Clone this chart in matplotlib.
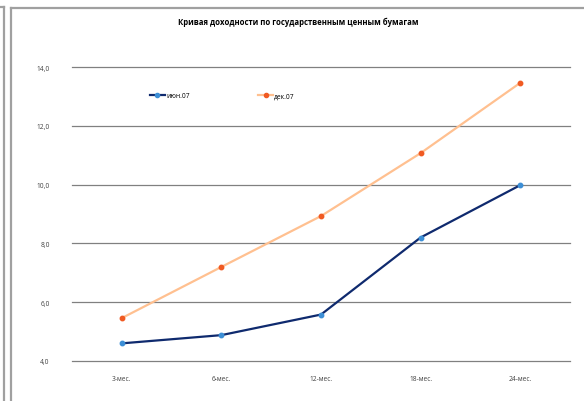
import numpy as np
import matplotlib.pyplot as plt
from matplotlib.lines import Line2D

plt.rcParams['font.family'] = ['Open Sans', 'DejaVu Sans']

terms = ['3-мес.', '6-мес.', '12-мес.', '18-мес.', '24-мес.']
jun07 = [4.6, 4.88, 5.58, 8.2, 9.98]
dec07 = [5.46, 7.2, 8.93, 11.07, 13.46]
yticks = [4, 6, 8, 10, 12, 14]

fig = plt.figure(figsize=(5.84, 4.02), dpi=100)
ax = fig.add_axes([72 / 584, 1 - 362 / 402, 498 / 584, 294 / 402])

x = np.arange(len(terms))
ax.plot(x, jun07, color='#0f2a6e', lw=1.6, marker='o', ms=3.2,
        mfc='#3d8fd6', mec='#3d8fd6', zorder=3)
ax.plot(x, dec07, color='#ffc090', lw=1.6, marker='o', ms=3.2,
        mfc='#f05a22', mec='#f05a22', zorder=3)

ax.set_xlim(-0.5, len(terms) - 0.5)
ax.set_ylim(4, 14)
ax.set_yticks(yticks)
ax.set_yticklabels([f'{v:.1f}'.replace('.', ',') for v in yticks])
ax.set_xticks(x)
ax.set_xticklabels(terms)
ax.grid(axis='y', color='#808080', lw=0.9)
for gl in ax.get_ygridlines():
    gl.set_clip_on(False)
ax.set_axisbelow(True)
for s in ax.spines.values():
    s.set_visible(False)
ax.tick_params(length=0, labelsize=4.8, colors='#404040')
ax.tick_params(axis='x', pad=10)
ax.tick_params(axis='y', pad=16)

fig.text(0.51, 1 - 22 / 402, 'Кривая доходности по государственным ценным бумагам',
         ha='center', va='center', fontsize=5.6, fontweight='bold')

# legend
handles = [Line2D([], [], color='#0f2a6e', lw=1.6, marker='o', ms=3,
                  mfc='#3d8fd6', mec='#3d8fd6'),
           Line2D([], [], color='#ffc090', lw=1.6, marker='o', ms=3,
                  mfc='#f05a22', mec='#f05a22')]
fig.legend(handles, ['июн.07', 'дек.07'], loc='center left',
           bbox_to_anchor=(150 / 584, 1 - 97 / 402), ncol=2, frameon=False,
           fontsize=4.8, handlelength=2.2, handletextpad=0.2, columnspacing=10.3,
           borderaxespad=0, borderpad=0)

# outer frames
gray = '#a0a0a0'
for xs, ys in [([4, 4], [402, 8]), ([0, 4], [8, 8]),
               ([11, 11], [402, 9]), ([11, 584], [9, 9])]:
    fig.add_artist(Line2D([v / 584 for v in xs], [1 - v / 402 for v in ys],
                          color=gray, lw=1.6, transform=fig.transFigure))

fig.savefig('out.png', dpi=100)
